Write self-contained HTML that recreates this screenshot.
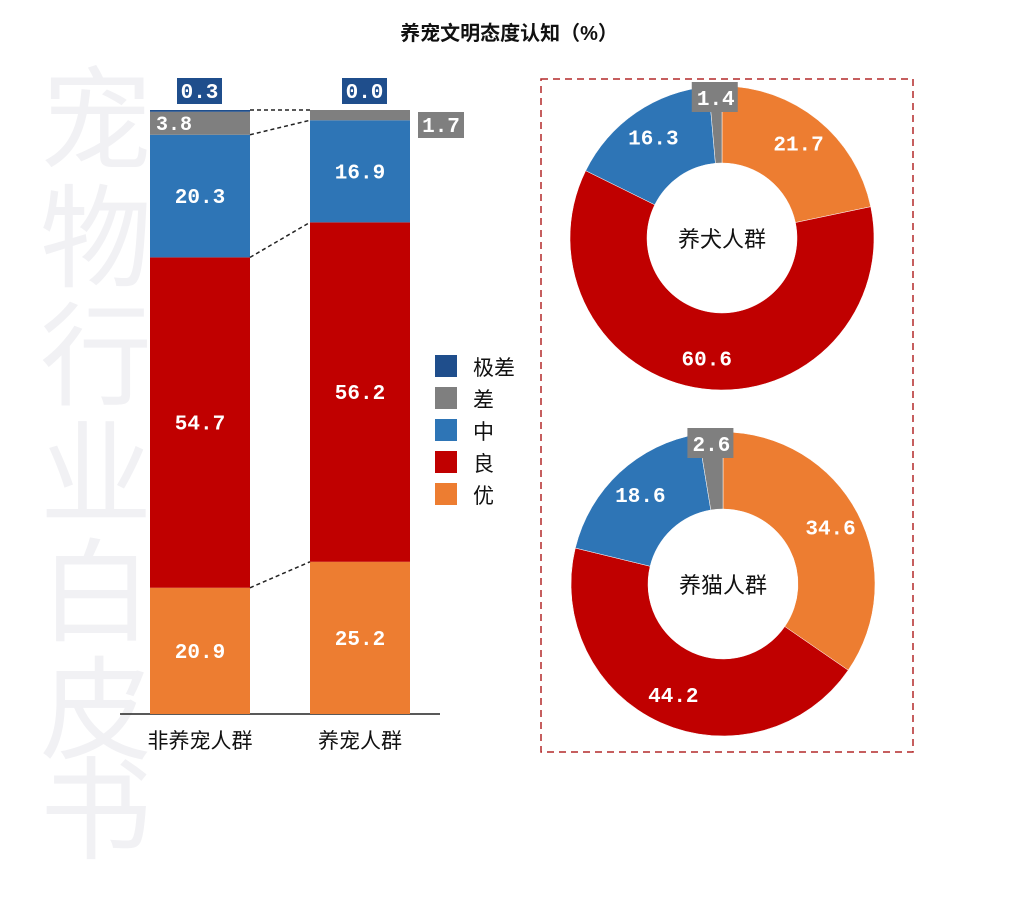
<!DOCTYPE html>
<html><head><meta charset="utf-8"><style>
body{margin:0;background:#fff;width:1018px;height:892px;overflow:hidden;font-family:"Liberation Sans","Noto Sans CJK SC",sans-serif}
</style></head><body>
<svg id="c" width="1018" height="892" xmlns="http://www.w3.org/2000/svg">
<g fill="#f1f1f4" font-size="112" font-family="Noto Sans CJK SC, sans-serif">
<text x="40" y="160">宠</text><text x="40" y="278">物</text><text x="40" y="396">行</text><text x="40" y="514">业</text><text x="40" y="632">白</text><text x="40" y="750">皮</text><text x="40" y="850">书</text>
</g>
<text x="509" y="40" text-anchor="middle" font-size="20" font-weight="bold" fill="#111">养宠文明态度认知（%）</text>
<rect x="541" y="79" width="372" height="673" fill="none" stroke="#b3282a" stroke-width="1.5" stroke-dasharray="7,5"/>
<line x1="120" y1="714" x2="440" y2="714" stroke="#222" stroke-width="1.5"/>
<g id="bars"></g><g id="donuts"></g><g id="legend"></g>
</svg>
<script>
const categories=['非养宠人群','养宠人群'];
const levels=['优','良','中','差','极差'];
const colors=['#ed7d31','#c00000','#2e75b6','#7f7f7f','#1f4e8c'];
const barYou=[20.9,25.2];
const barLiang=[54.7,56.2];
const barZhong=[20.3,16.9];
const barCha=[3.8,1.7];
const barJicha=[0.3,0.0];
const donutNames=['养犬人群','养猫人群'];
const dogValues=[21.7,60.6,16.3,1.4];
const catValues=[34.6,44.2,18.6,2.6];
const NS='http://www.w3.org/2000/svg';
const NUMFONT='Liberation Mono,monospace';
function mk(tag,attrs,parent){const e=document.createElementNS(NS,tag);for(const k in attrs)e.setAttribute(k,attrs[k]);parent.appendChild(e);return e;}
const base=714,scaleH=604;
const y=v=>base-v/100*scaleH;
const bx=i=>150+i*160, bw=100;
const series=[barYou,barLiang,barZhong,barCha,barJicha];
const bars=document.getElementById('bars');
const bounds=[[],[]];
categories.forEach((c,i)=>{
  let cum=0;bounds[i].push(y(0));
  series.forEach((s,k)=>{
    const v=s[i];const y1=y(cum+v),y0=y(cum);
    const r=mk('rect',{x:bx(i),y:y1,width:bw,height:Math.max(0,y0-y1),fill:colors[k]},bars);
    
    
    cum+=v;bounds[i].push(y1);
    if(k<3){const t=mk('text',{x:bx(i)+bw/2,y:(y0+y1)/2+7,'text-anchor':'middle','font-size':21,'font-weight':'bold',fill:'#fff','font-family':NUMFONT},bars);t.textContent=v.toFixed(1);
      }
  });
  const t=mk('text',{x:bx(i)+bw/2,y:748,'text-anchor':'middle','font-size':21,fill:'#111'},bars);t.textContent=c;
  
});
[1,2,3,5].forEach(b=>{const l=mk('line',{x1:bx(0)+bw,y1:bounds[0][b],x2:bx(1),y2:bounds[1][b],stroke:'#222','stroke-width':1.5,'stroke-dasharray':'4,3'},bars);
 });
function box(x,yy,w,fill,txt,name){const g=mk('g',{},bars);
 mk('rect',{x:x,y:yy,width:w,height:26,fill:fill},g);const t=mk('text',{x:x+w/2,y:yy+20,'text-anchor':'middle','font-size':21,'font-weight':'bold',fill:'#fff','font-family':NUMFONT},g);t.textContent=txt;}
box(177,78,45,colors[4],barJicha[0].toFixed(1),'label-jicha-0');
box(342,78,45,colors[4],barJicha[1].toFixed(1),'label-jicha-1');
box(418,112,46,colors[3],barCha[1].toFixed(1),'label-cha-1');
{const t=mk('text',{x:174,y:bounds[0][4]+18,'text-anchor':'middle','font-size':20,'font-weight':'bold',fill:'#fff','font-family':NUMFONT},bars);t.textContent=barCha[0].toFixed(1);
 }
const lg=document.getElementById('legend');
[4,3,2,1,0].forEach((k,j)=>{const g=mk('g',{},lg);
 mk('rect',{x:435,y:355+j*32,width:22,height:22,fill:colors[k]},g);
 const t=mk('text',{x:473,y:375+j*32,'font-size':21,fill:'#111'},g);t.textContent=levels[k];});
const dg=document.getElementById('donuts');
function donut(cx,cy,vals,name){const R=152,r=75;let a=0;const g=mk('g',{},dg);
 
 const pt=(ang,rad)=>[cx+rad*Math.sin(ang),cy-rad*Math.cos(ang)];
 vals.forEach((v,k)=>{const a0=a/100*2*Math.PI,a1=(a+v)/100*2*Math.PI;const lf=v>50?1:0;
  const [x0,y0]=pt(a0,R),[x1,y1]=pt(a1,R),[x2,y2]=pt(a1,r),[x3,y3]=pt(a0,r);
  const p=mk('path',{d:`M${x0},${y0}A${R},${R} 0 ${lf} 1 ${x1},${y1}L${x2},${y2}A${r},${r} 0 ${lf} 0 ${x3},${y3}Z`,fill:colors[k],stroke:'#fff','stroke-width':0.5},g);
  
  const am=(a0+a1)/2;
  if(k===3){const [lx,ly]=pt(am,R-10);mk('rect',{x:lx-24,y:cy-R-4,width:46,height:30,fill:'#7f7f7f'},g);
   const t=mk('text',{x:lx,y:cy-R+19,'text-anchor':'middle','font-size':21,'font-weight':'bold',fill:'#fff','font-family':NUMFONT},g);t.textContent=v.toFixed(1);}
  else{const [lx,ly]=pt(am,(R+r)/2+8);const t=mk('text',{x:lx,y:ly+7,'text-anchor':'middle','font-size':21,'font-weight':'bold',fill:'#fff','font-family':NUMFONT},g);t.textContent=v.toFixed(1);}
  a+=v;});
 const t=mk('text',{x:cx,y:cy+9,'text-anchor':'middle','font-size':22,fill:'#111'},g);t.textContent=name;}
donut(722,238,dogValues,donutNames[0]);
donut(723,584,catValues,donutNames[1]);
</script>
</body></html>
